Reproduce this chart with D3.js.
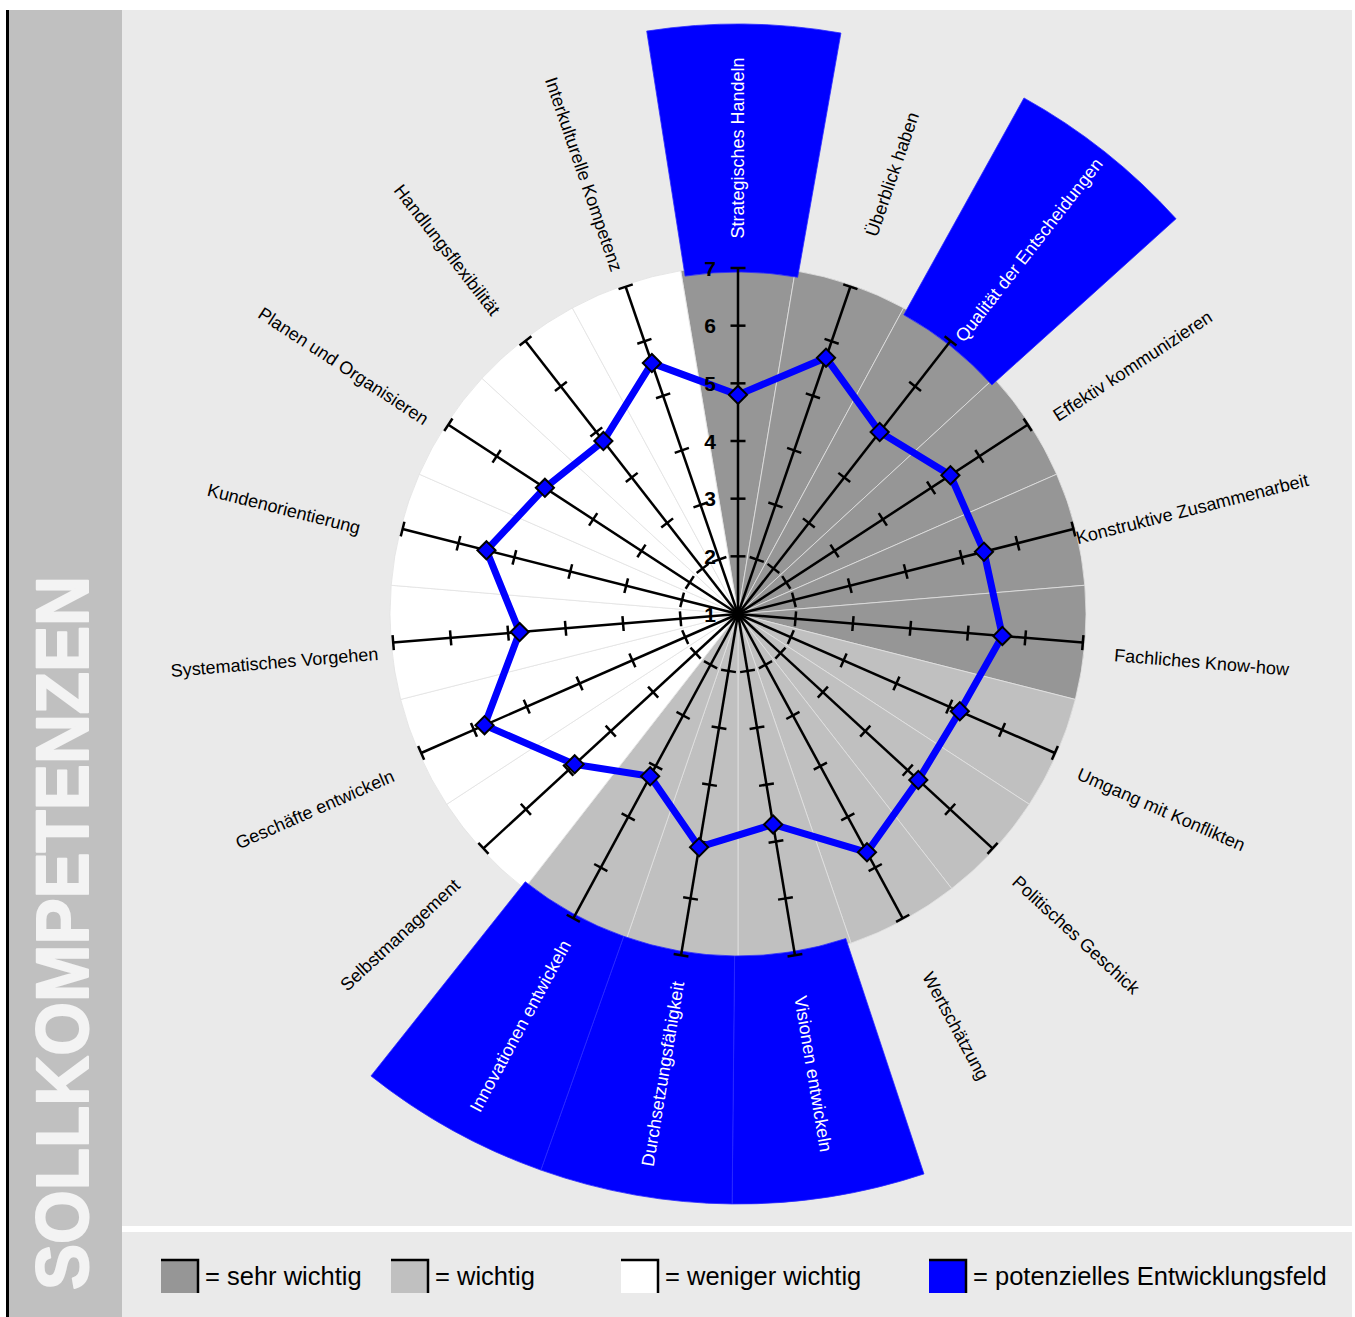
<!DOCTYPE html>
<html>
<head>
<meta charset="utf-8">
<script src="https://cdn.jsdelivr.net/npm/d3@7"></script>
<style>
  body { margin: 0; background: #ffffff; }
  svg { display: block; font-family: Arial, "Liberation Sans", Helvetica, sans-serif; }
</style>
</head>
<body>
<svg id="chart" width="1355" height="1317"></svg>
<script>
// Competencies, clockwise from the top
const competencies = [
  "Strategisches Handeln", "Überblick haben", "Qualität der Entscheidungen",
  "Effektiv kommunizieren", "Konstruktive Zusammenarbeit", "Fachliches Know-how",
  "Umgang mit Konflikten", "Politisches Geschick", "Wertschätzung",
  "Visionen entwickeln", "Durchsetzungsfähigkeit", "Innovationen entwickeln",
  "Selbstmanagement", "Geschäfte entwickeln", "Systematisches Vorgehen",
  "Kundenorientierung", "Planen und Organisieren", "Handlungsflexibilität",
  "Interkulturelle Kompetenz"
];

// Target profile (scale 1 – 7)
const targetValues = [
  4.8, 5.7, 5.0, 5.4, 5.4, 5.6,
  5.2, 5.25, 5.7, 4.7, 5.1, 4.2,
  4.85, 5.8, 4.8, 5.5, 5.0, 4.8, 5.6
];

// Importance of each competency
const importance = [
  "sehr wichtig", "sehr wichtig", "sehr wichtig", "sehr wichtig", "sehr wichtig", "sehr wichtig",
  "wichtig", "wichtig", "wichtig", "wichtig", "wichtig", "wichtig",
  "weniger wichtig", "weniger wichtig", "weniger wichtig", "weniger wichtig",
  "weniger wichtig", "weniger wichtig", "weniger wichtig"
];

// Competencies marked as potential development field
const developmentFields = [
  "Strategisches Handeln", "Qualität der Entscheidungen",
  "Visionen entwickeln", "Durchsetzungsfähigkeit", "Innovationen entwickeln"
];

const scaleTicks = [1, 2, 3, 4, 5, 6, 7];

const legendLabels = ["sehr wichtig", "wichtig", "weniger wichtig", "potenzielles Entwicklungsfeld"];

const sideTitle = "SOLLKOMPETENZEN";

// ---------------------------------------------------------------------------
const svg = d3.select("#chart");
const W = 1355, H = 1317;

const fillFor = d3.scaleOrdinal()
  .domain(["sehr wichtig", "wichtig", "weniger wichtig", "potenzielles Entwicklungsfeld"])
  .range(["#969696", "#c0c0c0", "#ffffff", "#0000ff"]);

// Frame: side band, chart panel, legend panel
svg.append("rect").attr("x", 9).attr("y", 10).attr("width", 113).attr("height", H - 10).attr("fill", "#c0c0c0");
svg.append("rect").attr("x", 6).attr("y", 10).attr("width", 3).attr("height", H - 10).attr("fill", "#000");
svg.append("rect").attr("x", 122).attr("y", 10).attr("width", 1230).attr("height", 1216).attr("fill", "#eaeaea");
svg.append("rect").attr("x", 122).attr("y", 1232).attr("width", 1230).attr("height", H - 1232).attr("fill", "#eaeaea");

svg.append("text")
  .attr("transform", "translate(88,1290) rotate(-90)")
  .attr("font-size", 74)
  .attr("font-weight", "bold")
  .attr("fill", "#f3f3f3")
  .attr("stroke", "#f3f3f3")
  .attr("stroke-width", 2)
  .attr("stroke-linejoin", "round")
  .attr("textLength", 714)
  .attr("lengthAdjust", "spacingAndGlyphs")
  .text(sideTitle);

// ---------------------------------------------------------------------------
const cx = 738, cy = 614;
const n = competencies.length;
const step = 2 * Math.PI / n;

const angle = d3.scaleLinear().domain([0, n]).range([0, 2 * Math.PI]);
const radius = d3.scaleLinear().domain([1, 7]).range([0, 346]);

const g = svg.append("g").attr("transform", `translate(${cx},${cy})`);

const items = competencies.map((name, i) => ({
  name, i,
  value: targetValues[i],
  importance: importance[i],
  dev: developmentFields.includes(name),
  a: angle(i)
}));

// Importance sectors
const sectorArc = d3.arc()
  .innerRadius(0)
  .outerRadius(radius(7) + 2)
  .startAngle(d => d.a - step / 2)
  .endAngle(d => d.a + step / 2);

g.append("g").selectAll("path")
  .data(items)
  .join("path")
  .attr("d", sectorArc)
  .attr("fill", d => fillFor(d.importance))
  .attr("stroke", "#e2e2e2")
  .attr("stroke-width", 0.8);

// Development field bands (outer ring, turned a hair clockwise)
const bandTurn = 0.01;
const devArc = d3.arc()
  .innerRadius(radius(7) - 4)
  .outerRadius(590)
  .startAngle(d => d.a - step / 2 + bandTurn)
  .endAngle(d => d.a + step / 2 + bandTurn);

g.append("g").selectAll("path")
  .data(items.filter(d => d.dev))
  .join("path")
  .attr("d", devArc)
  .attr("fill", fillFor("potenzielles Entwicklungsfeld"))
  .attr("stroke", "#2a2aff")
  .attr("stroke-width", 0.8);

// Competency labels, radial, centred on a ring
const labelR = 466;
g.append("g").selectAll("text")
  .data(items)
  .join("text")
  .attr("transform", d => {
    const deg = d.a * 180 / Math.PI;
    const rot = deg <= 180 ? -90 : 90;
    return `rotate(${deg}) translate(0,${-labelR}) rotate(${rot})`;
  })
  .attr("dy", d => 10 * Math.abs(Math.sin(d.a)))
  .attr("text-anchor", "middle")
  .attr("dominant-baseline", "central")
  .attr("font-size", 18)
  .attr("fill", d => d.dev ? "#ffffff" : "#000000")
  .text(d => d.name);

// Axes with tick marks
const axes = g.append("g").selectAll("g")
  .data(items)
  .join("g")
  .attr("transform", d => `rotate(${d.a * 180 / Math.PI})`);

axes.append("line")
  .attr("x1", 0).attr("y1", 0)
  .attr("x2", 0).attr("y2", -radius(7))
  .attr("stroke", "#000").attr("stroke-width", 2.5);

axes.selectAll("line.tick")
  .data(scaleTicks.filter(v => v > 1))
  .join("line")
  .attr("class", "tick")
  .attr("x1", -7.5).attr("x2", 7.5)
  .attr("y1", v => -radius(v)).attr("y2", v => -radius(v))
  .attr("stroke", "#000").attr("stroke-width", 2.5);

g.append("circle").attr("r", 5).attr("fill", "#000");

// Profile line
const profile = d3.lineRadial()
  .angle(d => d.a)
  .radius(d => radius(d.value))
  .curve(d3.curveLinearClosed);

g.append("path")
  .datum(items)
  .attr("d", profile)
  .attr("fill", "none")
  .attr("stroke", "#0000ff")
  .attr("stroke-width", 7)
  .attr("stroke-linejoin", "miter");

const diamond = d3.symbol().type(d3.symbolSquare).size(165);
g.append("g").selectAll("path")
  .data(items)
  .join("path")
  .attr("transform", d => {
    const [x, y] = d3.pointRadial(d.a, radius(d.value));
    return `translate(${x},${y}) rotate(45)`;
  })
  .attr("d", diamond)
  .attr("fill", "#0000ff")
  .attr("stroke", "#000")
  .attr("stroke-width", 2);

// Scale numbers on the first axis
g.append("g").selectAll("text")
  .data(scaleTicks)
  .join("text")
  .attr("x", -28)
  .attr("y", v => -radius(v))
  .attr("text-anchor", "middle")
  .attr("dominant-baseline", "central")
  .attr("font-size", 21)
  .attr("font-weight", "bold")
  .attr("fill", "#000")
  .text(v => v);

// ---------------------------------------------------------------------------
// Legend
const legendX = [161, 391, 621, 929];
const legend = svg.append("g").selectAll("g")
  .data(legendLabels)
  .join("g")
  .attr("transform", (d, i) => `translate(${legendX[i]},1259)`);

legend.append("rect")
  .attr("x", 0).attr("y", 0).attr("width", 37).attr("height", 34)
  .attr("fill", d => fillFor(d));
legend.append("path")
  .attr("d", "M0,1 H37 V34")
  .attr("fill", "none")
  .attr("stroke", "#000")
  .attr("stroke-width", 2.5);
legend.append("text")
  .attr("x", 44)
  .attr("y", 26)
  .attr("font-size", 25.5)
  .attr("fill", "#000")
  .text(d => "= " + d);
</script>
</body>
</html>
